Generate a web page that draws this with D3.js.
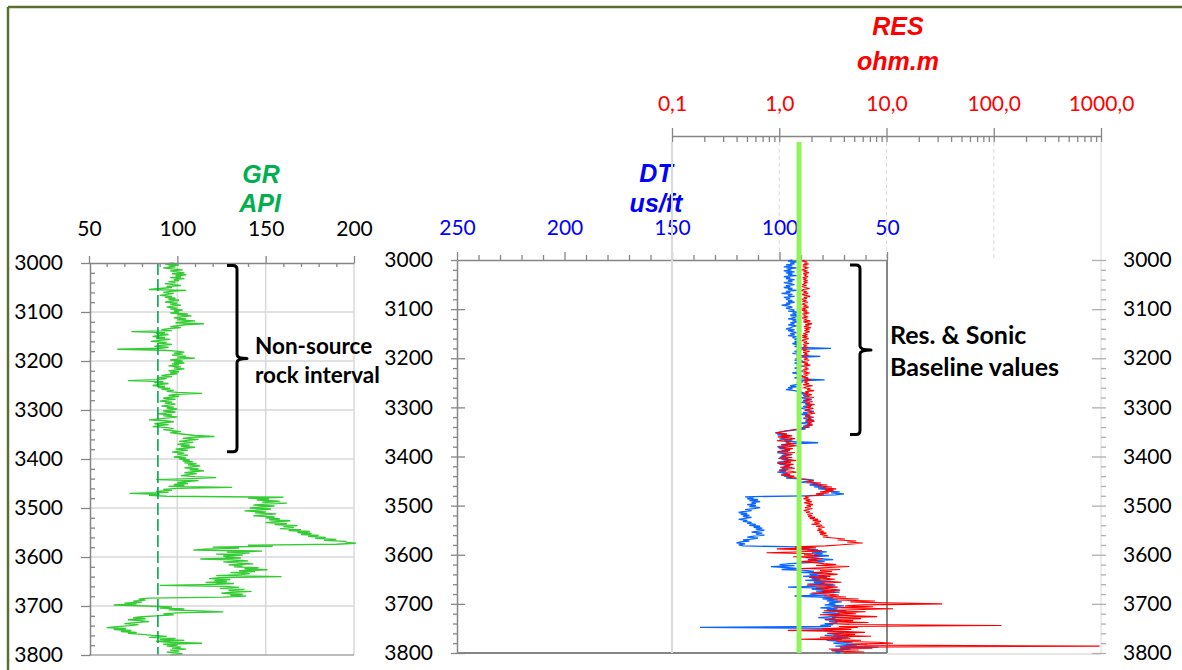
<!DOCTYPE html>
<html>
<head>
<meta charset="utf-8">
<script src="https://cdn.jsdelivr.net/npm/d3@7"></script>
<style>
  html, body { margin: 0; padding: 0; background: #fff; }
  svg { display: block; }
</style>
</head>
<body>
<svg id="chart" width="1182" height="670"></svg>
<script>
// ---- Well log samples: 3000–3800 ft, one sample every 2 ft ----
const depthTop = 3000;
const depthStep = 2;

// Gamma ray (API)
const grValues = [
  98,93,101,95,99, 92,97,103,96,100, 104,97,105,99,102, 96,104,98,101,95, 99,93,98,102,94,
  97,90,84,105,96, 92,98,94,90,97, 93,99,95,101,96, 93,100,96,102,97, 94,100,96,103,98,
  101,96,106,100,108, 102,98,105,100,110, 103,99,115,104,100, 96,102,95,91,97, 74,93,88,95,90,
  86,93,88,96,90, 85,94,89,97,91, 87,95,90,66,93, 99,104,98,103,97, 105,100,110,101,96,
  103,98,104,97,101, 95,102,98,104,99, 95,101,96,100,94, 91,97,89,94,88, 72,92,87,95,90,
  86,93,89,96,91, 98,94,100,114,99, 95,101,96,92,99, 94,90,97,93,99, 95,91,98,94,100,
  96,92,99,94,89, 97,92,100,95,90, 84,93,98,92,87, 95,90,86,94,98, 92,97,102,96,100,
  105,110,121,108,103, 112,106,101,109,104, 100,107,102,110,104, 99,106,101,97,104, 100,106,102,98,105,
  101,107,103,109,104, 111,106,113,108,104, 112,107,115,109,104, 111,106,102,110,122, 108,88,112,105,100,
  106,98,104,95,131, 100,92,97,88,95, 73,90,84,94,160, 140,152,145,158,148, 162,150,143,155,147,
  141,153,146,138,150, 144,156,149,143,155, 150,158,152,164,156, 150,162,155,168,160, 166,158,170,163,175,
  168,176,170,180,174, 184,178,190,183,195, 196,201,190,140,154, 120,135,115,109,148, 128,141,122,137,126,
  128,136,113,131,140, 126,134,143,129,137, 132,146,138,151,135, 144,130,141,136,122, 159,124,118,130,121,
  128,116,132,122,90, 127,135,124,138,129, 142,131,125,137,130, 139,126,84,78,82, 75,80,70,77,64,
  82,97,90,104,95, 112,126,100,92,98, 88,80,75,82,72, 79,84,76,70,78, 73,66,60,71,64,
  74,68,77,72,80, 86,94,84,99,90, 104,88,96,114,92, 100,94,102,97,105, 96,101,94,99,103,
  96
];

// Sonic transit time (us/ft)
const dtValues = [
  94,96,92,95,93, 97,94,98,92,96, 95,98,93,97,94, 96,92,98,95,97, 93,96,94,98,95,
  93,97,95,98,94, 96,92,97,95,99, 94,96,93,98,95, 97,94,96,93,97, 95,99,96,94,97,
  95,93,96,91,94, 92,95,90,94,93, 96,92,94,91,95, 93,96,92,94,95, 97,93,96,94,92,
  95,93,96,92,94, 91,93,90,93,91, 94,92,90,93,91, 76,92,90,93,91, 94,90,92,81,91,
  92,90,93,89,91, 93,90,92,89,91, 93,90,92,89,91, 94,90,92,89,91, 93,90,79,91,89,
  92,90,93,95,92, 96,94,97,93,91, 89,90,87,89,86, 90,88,85,89,87, 90,86,88,85,89,
  87,90,86,88,84, 89,87,90,86,88, 85,89,87,84,88, 86,90,87,85,89, 86,90,88,92,96,
  99,102,98,101,95, 99,96,100,94,98, 93,82,95,99,96, 101,97,100,95,99, 96,101,98,94,99,
  97,100,96,99,94, 98,101,97,100,95, 98,94,99,96,100, 97,101,96,99,95, 98,94,97,88,84,
  86,90,85,82,86, 80,84,78,82,75, 79,72,76,70,74, 88,116,112,115,110, 114,109,113,111,115,
  111,114,109,112,116, 113,117,119,115,118, 114,117,113,116,119, 115,117,113,115,111, 114,109,112,108,111,
  107,110,113,108,111, 107,112,115,110,113, 117,114,118,120,116, 119,117,92,86,90, 82,87,78,85,80,
  84,77,83,88,81, 75,84,79,86,95, 100,93,104,97,92, 99,88,84,90,80, 86,82,89,78,85,
  81,88,76,84,79, 87,74,82,96,80, 85,77,83,72,80, 86,78,93,81,75, 80,73,78,71,77,
  74,79,70,76,81, 73,78,69,75,80, 72,77,70,76,82, 74,79,71,77,73, 79,75,81,76,137,
  78,73,80,75,70, 77,72,79,74,68, 76,71,78,73,66, 75,70,64,74,54, 72,67,76,70,74,
  72
];

// Resistivity (ohm.m)
const resValues = [
  1.72,1.65,1.83,1.70,1.88, 1.66,1.78,1.69,1.85,1.74, 1.64,1.80,1.71,1.90,1.67, 1.79,1.73,1.86,1.65,1.77, 1.70,1.84,1.68,1.81,1.72,
  1.66,1.80,1.62,1.75,1.92, 1.68,1.60,1.78,1.71,1.86, 1.63,1.74,1.94,1.69,1.82, 1.61,1.76,1.67,1.85,1.72, 1.64,1.79,1.70,1.88,1.66,
  1.75,1.62,1.83,1.68,1.91, 1.64,1.77,1.70,1.86,1.63, 1.79,1.72,1.95,1.68,1.84, 2.02,1.74,1.90,1.69,1.98, 1.76,1.87,1.71,1.93,1.78,
  1.70,1.84,1.64,1.79,1.68, 1.88,1.73,1.62,1.81,1.69, 1.90,1.66,1.77,1.71,1.85, 1.63,1.78,1.70,1.92,1.67, 1.80,1.73,1.87,1.65,1.76,
  1.82,1.69,1.91,1.72,1.64, 1.85,1.71,1.95,1.67,1.80, 1.74,1.88,1.65,1.78,1.70, 1.93,1.68,1.83,1.75,1.62, 1.86,1.72,1.97,1.69,1.81,
  1.74,1.90,1.66,2.05,1.79, 1.70,1.96,1.82,2.12,1.75, 1.88,1.68,2.01,1.84,1.72, 2.10,1.79,1.94,1.70,2.05, 1.86,1.76,2.14,1.83,1.97,
  1.78,2.08,1.87,1.72,2.02, 1.91,2.16,1.80,1.95,1.74, 2.10,1.85,2.00,1.77,2.13, 1.89,1.98,1.82,2.06,1.75, 1.92,1.65,1.48,1.30,1.12,
  1.02,0.93,1.18,1.05,1.32, 0.97,1.24,1.41,1.10,0.95, 1.28,1.15,1.38,1.04,1.46, 1.20,0.98,1.34,1.12,1.25, 0.96,1.40,1.08,1.30,1.17,
  1.05,1.32,0.98,1.22,1.44, 1.10,1.28,0.96,1.36,1.14, 1.25,1.02,1.40,1.18,0.99, 1.30,1.45,1.12,1.26,1.04, 1.38,1.20,1.47,1.62,1.85,
  2.10,1.78,2.45,2.05,2.80, 2.30,3.10,2.55,3.40,2.70, 3.20,2.40,2.90,2.20,2.60, 1.95,1.72,1.88,1.68,1.95, 1.76,2.02,1.70,1.90,2.06,
  1.80,1.97,1.73,2.04,1.85, 1.69,1.92,1.78,2.05,1.83, 1.98,1.86,2.15,1.92,2.30, 2.05,2.45,2.12,2.38,2.00, 2.52,2.20,2.65,2.30,2.48,
  2.25,2.60,2.35,2.75,2.40, 2.62,2.85,2.55,3.20,4.10, 3.50,5.20,4.30,6.00,4.80, 3.60,2.70,1.40,2.20,0.95, 1.80,2.50,1.60,0.76,2.10,
  1.70,2.40,1.35,2.05,2.55, 1.85,2.30,1.55,2.15,2.60, 3.40,2.20,4.50,2.90,1.60, 3.70,2.40,3.10,2.00,2.80, 3.50,2.30,3.00,1.90,2.70,
  3.30,2.10,2.90,3.80,2.40, 3.20,1.80,2.70,3.50,2.20, 3.00,3.70,2.50,3.30,2.00, 2.80,3.60,2.60,4.20,3.00, 5.50,3.40,7.80,4.60,9.50,
  33.0,6.20,4.10,7.50,3.20, 11.5,4.80,2.60,6.40,3.50, 5.20,2.40,4.40,8.20,3.10, 5.80,2.70,4.90,3.30,6.80, 2.90,4.50,118,3.60,5.40,
  2.50,4.70,1.20,3.80,6.30, 2.80,5.10,3.20,7.20,2.40, 4.60,1.50,5.80,3.40,8.30, 11.5,4.20,6.60,970,3.70, 7.40,2.90,5.50,3.10,6.20,
  4.00
];

// Baselines picked in the non-source interval
const grBaseline = 89;     // API
const resBaseline = 1.53;  // ohm.m

// Axis ticks
const depthTicks = [3000, 3100, 3200, 3300, 3400, 3500, 3600, 3700, 3800];
const grTicks = [50, 100, 150, 200];
const dtTicks = [250, 200, 150, 100, 50];
const resTicks = [0.1, 1, 10, 100, 1000];
const resTickLabels = ["0,1", "1,0", "10,0", "100,0", "1000,0"];

// ---- Drawing ----
const svg = d3.select("#chart");
const AXIS = "#868686";
const GRID = "#d9d9d9";
const LABEL_FONT = "Lato, 'Open Sans', sans-serif";
const TITLE_FONT = "'Liberation Sans', Arial, sans-serif";
const fmtDepth = d3.format("d");

const depthOf = i => depthTop + i * depthStep;
const depthMinor = d3.range(3000, 3801, 20).filter(d => d % 100 !== 0);

function styleAxis(g, color, textColor) {
  g.attr("font-family", LABEL_FONT).attr("font-size", 21);
  g.selectAll(".domain").attr("stroke", color).attr("stroke-width", 1.5);
  g.selectAll(".tick line").attr("stroke", color).attr("stroke-width", 1.3);
  g.selectAll(".tick text").attr("fill", textColor || "#000");
  return g;
}
function tickOnly(g, color) {
  g.select(".domain").remove();
  g.selectAll(".tick line").attr("stroke", color).attr("stroke-width", 1.3);
  g.selectAll(".tick text").remove();
  return g;
}

// Frame
svg.append("line").attr("x1", 8).attr("x2", 1182).attr("y1", 7).attr("y2", 7)
  .attr("stroke", "#5b6f2f").attr("stroke-width", 2.5);
svg.append("line").attr("x1", 8).attr("x2", 8).attr("y1", 7).attr("y2", 670)
  .attr("stroke", "#5b6f2f").attr("stroke-width", 2.5);

// ================= GR track =================
const grX = d3.scaleLinear().domain([50, 200]).range([89, 354]);
const grY = d3.scaleLinear().domain([3000, 3800]).range([263, 655]);

const grGrid = svg.append("g");
grGrid.selectAll("line.v").data(grTicks.slice(1)).join("line")
  .attr("x1", d => grX(d)).attr("x2", d => grX(d))
  .attr("y1", grY(3000)).attr("y2", grY(3800))
  .attr("stroke", GRID).attr("stroke-width", 1.5);
grGrid.selectAll("line.h").data(depthTicks.slice(1, -1)).join("line")
  .attr("x1", grX(50)).attr("x2", grX(200))
  .attr("y1", d => grY(d)).attr("y2", d => grY(d))
  .attr("stroke", GRID).attr("stroke-width", 1.5);

svg.append("path")
  .datum(grValues)
  .attr("fill", "none").attr("stroke", "#33cc33").attr("stroke-width", 1.35)
  .attr("d", d3.line().x(v => grX(v)).y((v, i) => grY(depthOf(i))));

svg.append("line")
  .attr("x1", grX(grBaseline)).attr("x2", grX(grBaseline))
  .attr("y1", grY(3000)).attr("y2", grY(3800))
  .attr("stroke", "#00a84f").attr("stroke-width", 1.6).attr("stroke-dasharray", "12,4");

// bottom edge of the GR track
svg.append("line").attr("x1", grX(50)).attr("x2", grX(200))
  .attr("y1", grY(3800)).attr("y2", grY(3800))
  .attr("stroke", "#a6a6a6").attr("stroke-width", 1.5);

styleAxis(svg.append("g").attr("transform", `translate(0,${grY(3000)})`)
  .call(d3.axisTop(grX).tickValues(grTicks).tickSize(7).tickSizeOuter(0).tickPadding(20)
    .tickFormat(d3.format("d"))), AXIS);
tickOnly(svg.append("g").attr("transform", `translate(0,${grY(3000)})`)
  .call(d3.axisBottom(grX).tickValues(d3.range(60, 200, 10).filter(d => d % 50 !== 0)).tickSize(4)), AXIS);
styleAxis(svg.append("g").attr("transform", `translate(${grX(50) + 1},0)`)
  .call(d3.axisLeft(grY).tickValues(depthTicks).tickSize(9).tickSizeOuter(0).tickPadding(18)
    .tickFormat(fmtDepth)), AXIS);
tickOnly(svg.append("g").attr("transform", `translate(${grX(50) + 1},0)`)
  .call(d3.axisRight(grY).tickValues(depthMinor).tickSize(5)), AXIS);

// titles
function title(x, y, txt, color) {
  svg.append("text").attr("x", x).attr("y", y).attr("text-anchor", "middle")
    .attr("font-family", TITLE_FONT).attr("font-weight", "bold").attr("font-style", "italic")
    .attr("font-size", 25).attr("fill", color).text(txt);
}
title(261, 183, "GR", "#00b050");
title(260, 212, "API", "#00b050");

// ================= DT / RES track =================
const dtX = d3.scaleLinear().domain([250, 50]).range([457, 887]);
const dtY = d3.scaleLinear().domain([3000, 3800]).range([260, 653]);
const resX = d3.scaleLog().domain([0.1, 1000]).range([672, 1101]);

// resistivity decade grid above the sonic track
svg.append("g").selectAll("line").data([1, 10, 100]).join("line")
  .attr("x1", d => resX(d)).attr("x2", d => resX(d))
  .attr("y1", 142).attr("y2", dtY(3000))
  .attr("stroke", "#dcdcdc").attr("stroke-width", 1).attr("stroke-dasharray", "4,3");
svg.append("line").attr("x1", resX(1000)).attr("x2", resX(1000))
  .attr("y1", 142).attr("y2", dtY(3800) + 1)
  .attr("stroke", "#ebebeb").attr("stroke-width", 2);
svg.append("line").attr("x1", dtX(50)).attr("x2", resX(1000))
  .attr("y1", dtY(3800) + 1).attr("y2", dtY(3800) + 1)
  .attr("stroke", "#e6e6e6").attr("stroke-width", 2);

// resistivity scale (log)
const resMinor = [];
[0.1, 1, 10, 100].forEach(dec => { for (let k = 2; k <= 9; k++) resMinor.push(dec * k); });
styleAxis(svg.append("g").attr("transform", "translate(0,136)")
  .call(d3.axisTop(resX).tickValues(resTicks).tickSize(8).tickSizeOuter(0).tickPadding(17)
    .tickFormat((d, i) => resTickLabels[i])), AXIS, "#ff0000");
tickOnly(svg.append("g").attr("transform", "translate(0,136)")
  .call(d3.axisBottom(resX).tickValues(resTicks.concat(resMinor)).tickSize(6)), AXIS);

// sonic scale
styleAxis(svg.append("g").attr("transform", `translate(0,${dtY(3000)})`)
  .call(d3.axisTop(dtX).tickValues(dtTicks).tickSize(8).tickSizeOuter(0).tickPadding(17)
    .tickFormat(d3.format("d"))), AXIS, "#0000ff");
tickOnly(svg.append("g").attr("transform", `translate(0,${dtY(3000)})`)
  .call(d3.axisTop(dtX).tickValues(d3.range(60, 250, 10).filter(d => d % 50 !== 0)).tickSize(5)), AXIS);

// depth axis, left of sonic track
styleAxis(svg.append("g").attr("transform", `translate(${dtX(250)},0)`)
  .call(d3.axisLeft(dtY).tickValues(depthTicks).tickSize(6).tickSizeOuter(0).tickPadding(18)
    .tickFormat(fmtDepth)), AXIS);
tickOnly(svg.append("g").attr("transform", `translate(${dtX(250)},0)`)
  .call(d3.axisRight(dtY).tickValues(depthTicks.slice(1)).tickSize(8)), AXIS);
tickOnly(svg.append("g").attr("transform", `translate(${dtX(250)},0)`)
  .call(d3.axisLeft(dtY).tickValues(depthMinor).tickSize(4)), AXIS);

// frame of the sonic track
svg.append("line").attr("x1", dtX(250)).attr("x2", dtX(50))
  .attr("y1", dtY(3800)).attr("y2", dtY(3800))
  .attr("stroke", AXIS).attr("stroke-width", 2);
svg.append("line").attr("x1", dtX(50)).attr("x2", dtX(50))
  .attr("y1", dtY(3000)).attr("y2", dtY(3800))
  .attr("stroke", AXIS).attr("stroke-width", 2);

// depth axis on the far right
const rightAxisX = resX(1000);
styleAxis(svg.append("g").attr("transform", `translate(${rightAxisX},0)`)
  .call(d3.axisRight(dtY).tickValues(depthTicks).tickSize(0).tickPadding(22)
    .tickFormat(fmtDepth)), "#ededed");
tickOnly(svg.append("g").attr("transform", `translate(${rightAxisX},0)`)
  .call(d3.axisLeft(dtY).tickValues(depthTicks).tickSize(9)), "#b0b0b0");
tickOnly(svg.append("g").attr("transform", `translate(${rightAxisX},0)`)
  .call(d3.axisRight(dtY).tickValues(depthMinor.concat(depthTicks)).tickSize(5)), "#b0b0b0");

title(656, 182, "DT", "#0000ff");
title(656, 212, "us/ft", "#0000ff");
title(898, 35, "RES", "#ff0000");
title(898, 70, "ohm.m", "#ff0000");

// 0.1 ohm.m grid line runs over the sonic titles
svg.append("line").attr("x1", resX(0.1)).attr("x2", resX(0.1))
  .attr("y1", 142).attr("y2", dtY(3800))
  .attr("stroke", GRID).attr("stroke-width", 2);

// curves
svg.append("path")
  .datum(dtValues)
  .attr("fill", "none").attr("stroke", "#0a66ff").attr("stroke-width", 1.3)
  .attr("d", d3.line().x(v => dtX(v)).y((v, i) => dtY(depthOf(i))));
svg.append("path")
  .datum(resValues)
  .attr("fill", "none").attr("stroke", "#ff0000").attr("stroke-width", 1.1)
  .attr("d", d3.line().x(v => resX(v)).y((v, i) => dtY(depthOf(i))));

// resistivity / sonic baseline
svg.append("line")
  .attr("x1", resX(resBaseline)).attr("x2", resX(resBaseline))
  .attr("y1", 142).attr("y2", dtY(3800))
  .attr("stroke", "#92f25a").attr("stroke-width", 5);

// ================= Annotations =================
function brace(xOuter, xStem, xTip, yTop, yMid, yBot) {
  const r = 4;
  const p = d3.path();
  p.moveTo(xOuter, yTop);
  p.lineTo(xStem - r, yTop);
  p.quadraticCurveTo(xStem, yTop, xStem, yTop + r);
  p.lineTo(xStem, yMid - 4);
  p.quadraticCurveTo(xStem, yMid, xTip, yMid);
  p.quadraticCurveTo(xStem, yMid, xStem, yMid + 4);
  p.lineTo(xStem, yBot - r);
  p.quadraticCurveTo(xStem, yBot, xStem - r, yBot);
  p.lineTo(xOuter, yBot);
  svg.append("path").attr("d", p.toString())
    .attr("fill", "none").attr("stroke", "#000").attr("stroke-width", 3)
    .attr("stroke-linejoin", "round");
}
brace(227, 237, 247, grY(3005), grY(3195), grY(3385));
brace(850, 860, 871, dtY(3010), dtY(3183), dtY(3355));

function note(x, y, txt, size) {
  svg.append("text").attr("x", x).attr("y", y)
    .attr("font-family", LABEL_FONT).attr("font-weight", "bold")
    .attr("font-size", size).attr("fill", "#000").text(txt);
}
note(255, 354, "Non-source", 22.5);
note(255, 383, "rock interval", 22.5);
note(890, 344, "Res. & Sonic", 25);
note(890, 376, "Baseline values", 25);
</script>
</body>
</html>
